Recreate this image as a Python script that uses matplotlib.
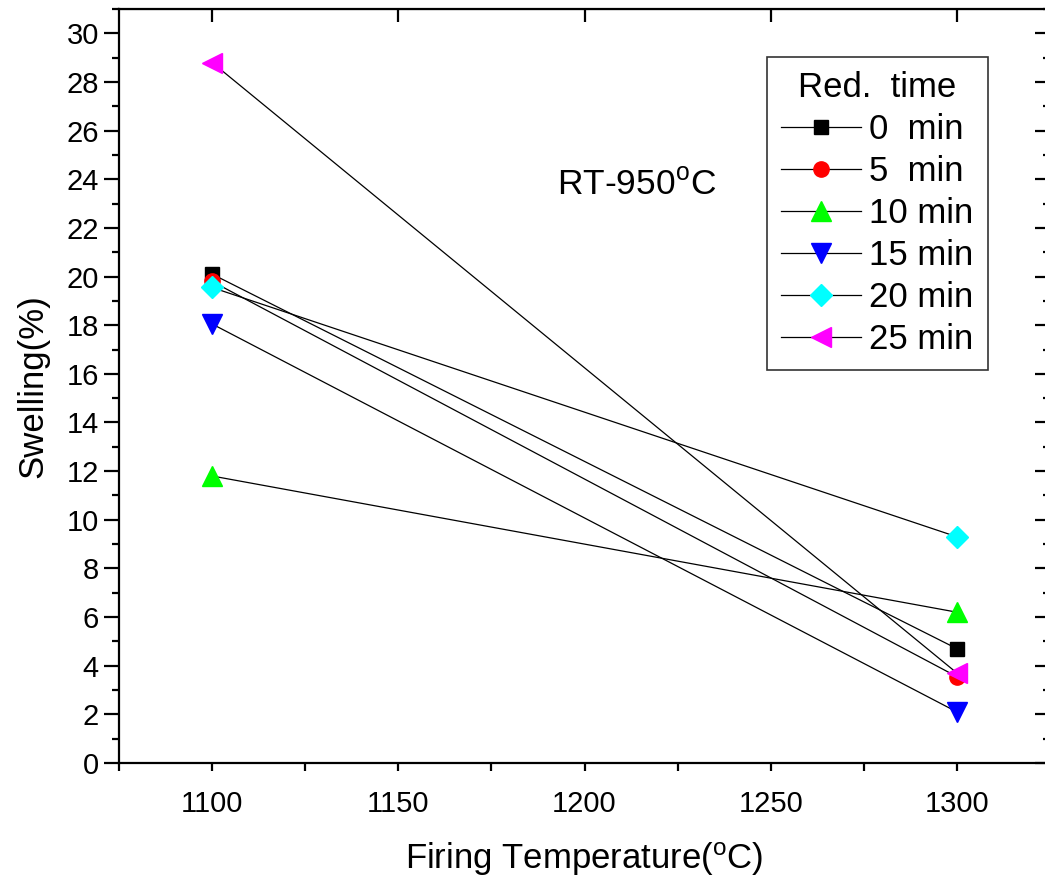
import matplotlib
matplotlib.use("Agg")
import matplotlib.pyplot as plt
from matplotlib.ticker import MultipleLocator

plt.rcParams['font.family'] = ['Liberation Sans', 'DejaVu Sans']
plt.rcParams['mathtext.fontset'] = 'custom'
plt.rcParams['mathtext.rm'] = 'Liberation Sans'
plt.rcParams['mathtext.it'] = 'Liberation Sans'

temperatures = [1100, 1300]
labels = ["0  min", "5  min", "10 min", "15 min", "20 min", "25 min"]
swell_0 = [20.1, 4.7]
swell_5 = [19.8, 3.55]
swell_10 = [11.8, 6.2]
swell_15 = [18.05, 2.1]
swell_20 = [19.55, 9.3]
swell_25 = [28.8, 3.7]

series = [swell_0, swell_5, swell_10, swell_15, swell_20, swell_25]
markers = ['s', 'o', '^', 'v', 'D', '<']
colors = ['black', 'red', '#00ff00', 'blue', 'cyan', 'magenta']
sizes = [10.5, 11, 14, 14, 11, 14.5]

fig = plt.figure(figsize=(10.45, 8.81), dpi=100)
ax = fig.add_axes([119/1045, (881-763)/881, 931/1045, 754/881])

for vals, m, c, s, lab in zip(series, markers, colors, sizes, labels):
    ax.plot(temperatures, vals, color='black', lw=0.9, marker=m, markersize=s,
            markerfacecolor=c, markeredgecolor=c, label=lab)

ax.set_xlim(1075, 1325)
ax.set_ylim(0, 31)
ax.xaxis.set_major_locator(MultipleLocator(50))
ax.xaxis.set_minor_locator(MultipleLocator(25))
ax.yaxis.set_major_locator(MultipleLocator(2))
ax.yaxis.set_minor_locator(MultipleLocator(1))

for sp in ax.spines.values():
    sp.set_linewidth(1.6)

ax.tick_params(axis='x', which='both', direction='out', length=5.5, width=1.6,
               labelsize=21, pad=14, top=False)
ax.tick_params(axis='y', which='major', direction='out', length=10.5, width=1.6,
               labelsize=21, pad=4, right=False)
ax.tick_params(axis='y', which='minor', direction='out', length=5, width=1.6, right=False)

# inward ticks on top and right
secx = ax.secondary_xaxis('top')
secx.xaxis.set_major_locator(MultipleLocator(50))
secx.tick_params(axis='x', which='major', direction='in', length=9.5, width=1.6, labeltop=False)
secx.tick_params(axis='x', which='minor', length=0)
secx.set_xticklabels([])
secy = ax.secondary_yaxis('right')
secy.yaxis.set_major_locator(MultipleLocator(2))
secy.yaxis.set_minor_locator(MultipleLocator(1))
secy.tick_params(axis='y', which='major', direction='in', length=10.5, width=1.6, labelright=False)
secy.tick_params(axis='y', which='minor', direction='in', length=5, width=1.6)
secy.set_yticklabels([])

ax.set_xlabel(r'Firing Temperature($^{\mathrm{o}}$C)', fontsize=25, labelpad=16)
ax.set_ylabel('Swelling(%)', fontsize=25, labelpad=12)

ax.text(0.47, 0.767, r'RT-950$^{\mathrm{o}}$C', transform=ax.transAxes,
        fontsize=25.5, ha='left', va='center')

leg = ax.legend(loc='upper right', bbox_to_anchor=(0.933, 0.936), fontsize=25,
                title='Red.  time', title_fontsize=25, frameon=True, fancybox=False,
                edgecolor='black', handlelength=2.3, handletextpad=0.25,
                labelspacing=0.26, borderpad=0.4, borderaxespad=0, numpoints=1)
leg.get_frame().set_linewidth(1.2)

fig.savefig('out.png', dpi=100)
